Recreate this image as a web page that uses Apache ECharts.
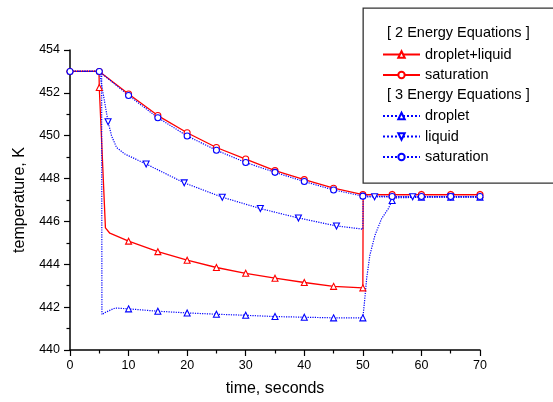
<!DOCTYPE html>
<html><head><meta charset="utf-8">
<script src="https://cdn.jsdelivr.net/npm/echarts@6/dist/echarts.min.js"></script>
<style>html,body{margin:0;padding:0;background:#fff}#c{width:553px;height:402px}</style>
</head><body><div id="c"></div>
<script>
// ---- data ----
// 2 energy equations: droplet+liquid
const dlT = [0, 4.95, 5, 6.05, 6.8, 10, 15, 20, 25, 30, 35, 40, 45, 50, 50.05, 55, 60, 65, 70];
const dlV = [453, 453, 452.25, 445.7, 445.45, 445.08, 444.59, 444.19, 443.85, 443.58, 443.35, 443.15, 442.97, 442.9, 447.25, 447.25, 447.25, 447.25, 447.25];
const dlMarks = [5, 10, 15, 20, 25, 30, 35, 40, 45, 50, 55, 60, 65, 70];
// 2 energy equations: saturation
const rsT = [0, 5, 10, 15, 20, 25, 30, 35, 40, 45, 50, 55, 60, 65, 70];
const rsV = [453, 453, 451.95, 450.94, 450.14, 449.45, 448.91, 448.37, 447.95, 447.55, 447.25, 447.25, 447.25, 447.25, 447.25];
const rsMarks = [0, 5, 10, 15, 20, 25, 30, 35, 40, 45, 50, 55, 60, 65, 70];
// 3 energy equations: droplet
const bdT = [0, 5.4, 5.45, 6.0, 7.7, 10, 15, 20, 25, 30, 35, 40, 45, 50, 50.3, 50.65, 51.2, 52.07, 53.2, 54.35, 55, 55.6, 60, 65, 70];
const bdV = [453, 453, 441.65, 441.75, 441.96, 441.92, 441.81, 441.73, 441.67, 441.62, 441.56, 441.53, 441.5, 441.5, 442.3, 443.35, 444.43, 445.36, 446.13, 446.6, 446.98, 447.1, 447.13, 447.13, 447.13];
const bdMarks = [10, 15, 20, 25, 30, 35, 40, 45, 50, 55, 60, 65, 70];
// 3 energy equations: liquid
const blT = [0, 5, 6.5, 7.1, 7.95, 9.4, 13, 19.5, 26, 32.5, 39, 45.5, 50, 50.05, 52, 58.5, 65, 70];
const blV = [453, 453, 450.65, 449.99, 449.45, 449.14, 448.68, 447.8, 447.13, 446.6, 446.16, 445.79, 445.64, 447.15, 447.15, 447.15, 447.15, 447.15];
const blMarks = [6.5, 13, 19.5, 26, 32.5, 39, 45.5, 52, 58.5, 65];
// 3 energy equations: saturation
const bsT = [0, 5, 10, 15, 20, 25, 30, 35, 40, 45, 50, 55, 60, 65, 70];
const bsV = [453, 453, 451.88, 450.84, 449.99, 449.32, 448.75, 448.29, 447.86, 447.47, 447.18, 447.16, 447.16, 447.16, 447.16];
const bsMarks = [0, 5, 10, 15, 20, 25, 30, 35, 40, 45, 50, 55, 60, 65, 70];

const xTicks = [0, 10, 20, 30, 40, 50, 60, 70];
const yTicks = [440, 442, 444, 446, 448, 450, 452, 454];
const header2 = '[ 2 Energy Equations ]';
const header3 = '[ 3 Energy Equations ]';

// ---- chart ----
function pts(T, V, marks) {
  return T.map((t, i) => marks.indexOf(t) >= 0 ? [t, V[i]] : { value: [t, V[i]], symbol: 'none' });
}
const RED = '#ff0000', BLUE = '#0000ff';
const downTri = 'path://M0,0 L10,0 L5,9 Z';
function mk(name, T, V, marks, color, dotted, symbol) {
  return {
    type: 'line', name: name, data: pts(T, V, marks),
    showAllSymbol: true, symbol: symbol, symbolSize: 6,
    animation: false,
    lineStyle: { color: color, width: dotted ? 1.2 : 1.3, type: dotted ? 'dotted' : 'solid' },
    itemStyle: { color: '#fff', borderColor: color, borderWidth: 1.1 },
    emphasis: { disabled: true }
  };
}
const chart = echarts.init(document.getElementById('c'), null, { renderer: 'canvas' });
const FONT = 'Liberation Sans, Arial, sans-serif';
const legendBase = {
  orient: 'vertical', left: 382, itemWidth: 37, itemHeight: 8, itemGap: 4.5, padding: 0,
  selectedMode: false,
  textStyle: { fontFamily: FONT, fontSize: 14.5, color: '#000', lineHeight: 16 },
  formatter: n => n.replace(/ \(\d\)$/, '')
};
chart.setOption({
  animation: false,
  textStyle: { fontFamily: FONT },
  grid: { left: 70, right: 73, top: 50, bottom: 49.5 },
  xAxis: {
    type: 'value', min: xTicks[0], max: xTicks[xTicks.length - 1], interval: 10,
    name: 'time, seconds', nameLocation: 'middle', nameGap: 31,
    nameTextStyle: { fontSize: 16, color: '#000', fontFamily: FONT },
    axisLine: { show: true, onZero: false, lineStyle: { color: '#000', width: 1.5 } },
    axisTick: { show: true, inside: false, length: 6, lineStyle: { color: '#000', width: 1.2 } },
    minorTick: { show: true, splitNumber: 2, length: 3.5, lineStyle: { color: '#000', width: 1.2 } },
    axisLabel: { fontSize: 12.5, color: '#000', margin: 9, fontFamily: FONT },
    splitLine: { show: false }
  },
  yAxis: {
    type: 'value', min: yTicks[0], max: yTicks[yTicks.length - 1], interval: 2,
    name: 'temperature, K', nameLocation: 'middle', nameGap: 42,
    nameTextStyle: { fontSize: 16, color: '#000', fontFamily: FONT },
    axisLine: { show: true, onZero: false, lineStyle: { color: '#000', width: 1.5 } },
    axisTick: { show: true, inside: false, length: 6, lineStyle: { color: '#000', width: 1.2 } },
    minorTick: { show: true, splitNumber: 2, length: 3.5, lineStyle: { color: '#000', width: 1.2 } },
    axisLabel: { fontSize: 12.5, color: '#000', margin: 10, fontFamily: FONT },
    splitLine: { show: false }
  },
  legend: [
    Object.assign({}, legendBase, { top: 46.5, data: ['droplet+liquid', 'saturation (2)'] }),
    Object.assign({}, legendBase, { top: 108, data: ['droplet', 'liquid', 'saturation (3)'] })
  ],
  graphic: [
    { type: 'rect', left: 362.5, top: 7.5, z: 1, shape: { width: 200, height: 175 },
      style: { fill: '#fff', stroke: '#333', lineWidth: 1.3 } },
    { type: 'text', left: 387, top: 25, z: 2,
      style: { text: header2, font: '14.5px ' + FONT, fill: '#000' } },
    { type: 'text', left: 387, top: 87, z: 2,
      style: { text: header3, font: '14.5px ' + FONT, fill: '#000' } }
  ],
  series: [
    mk('droplet+liquid', dlT, dlV, dlMarks, RED, false, 'triangle'),
    mk('saturation (2)', rsT, rsV, rsMarks, RED, false, 'circle'),
    mk('droplet', bdT, bdV, bdMarks, BLUE, true, 'triangle'),
    mk('liquid', blT, blV, blMarks, BLUE, true, downTri),
    mk('saturation (3)', bsT, bsV, bsMarks, BLUE, true, 'circle')
  ]
});
</script>
</body></html>
